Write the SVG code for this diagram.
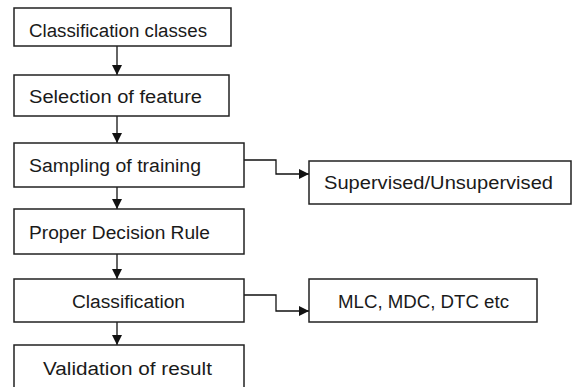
<svg xmlns="http://www.w3.org/2000/svg" width="575" height="387" viewBox="0 0 575 387">
<style>
.box{fill:#fff;stroke:#222;stroke-width:1.5}
.t{font-family:"Liberation Sans",Arial,sans-serif;font-size:18px;fill:#1a1a1a}
.c{fill:none;stroke:#111;stroke-width:1.3}
</style>
<defs>
<marker id="ah" viewBox="0 0 10 10" refX="10" refY="5" markerWidth="11" markerHeight="10" markerUnits="userSpaceOnUse" orient="auto">
<path d="M0,0 L10,5 L0,10 Z" fill="#111"/>
</marker>
</defs>
<rect width="575" height="387" fill="#fff"/>
<g id="connectors">
<line class="c" x1="117" y1="46" x2="117" y2="75" marker-end="url(#ah)"/>
<line class="c" x1="117" y1="116" x2="117" y2="143" marker-end="url(#ah)"/>
<line class="c" x1="117" y1="187" x2="117" y2="209" marker-end="url(#ah)"/>
<line class="c" x1="117" y1="254" x2="117" y2="279" marker-end="url(#ah)"/>
<line class="c" x1="117" y1="322" x2="117" y2="345" marker-end="url(#ah)"/>
<polyline class="c" points="244,160 276,160 276,174 309,174" marker-end="url(#ah)"/>
<polyline class="c" points="244,295 276,295 276,311 309,311" marker-end="url(#ah)"/>
</g>
<g id="n1"><rect class="box" x="14" y="8" width="217" height="38"/><text class="t" x="29" y="37" textLength="178" lengthAdjust="spacingAndGlyphs">Classification classes</text></g>
<g id="n2"><rect class="box" x="14" y="75" width="215" height="41"/><text class="t" x="29" y="103" textLength="173" lengthAdjust="spacingAndGlyphs">Selection of feature</text></g>
<g id="n3"><rect class="box" x="14" y="143" width="230" height="44"/><text class="t" x="29" y="172" textLength="172" lengthAdjust="spacingAndGlyphs">Sampling of training</text></g>
<g id="n4"><rect class="box" x="14" y="209" width="230" height="45"/><text class="t" x="29" y="239" textLength="181" lengthAdjust="spacingAndGlyphs">Proper Decision Rule</text></g>
<g id="n5"><rect class="box" x="14" y="279" width="230" height="43"/><text class="t" x="72" y="308" textLength="113" lengthAdjust="spacingAndGlyphs">Classification</text></g>
<g id="n6"><rect class="box" x="14" y="345" width="230" height="50"/><text class="t" x="43" y="375" textLength="169" lengthAdjust="spacingAndGlyphs">Validation of result</text></g>
<g id="n7"><rect class="box" x="309" y="161" width="262" height="43"/><text class="t" x="324" y="189" textLength="229" lengthAdjust="spacingAndGlyphs">Supervised/Unsupervised</text></g>
<g id="n8"><rect class="box" x="309" y="279" width="228" height="43"/><text class="t" x="338" y="308" textLength="171" lengthAdjust="spacingAndGlyphs">MLC, MDC, DTC etc</text></g>
</svg>
